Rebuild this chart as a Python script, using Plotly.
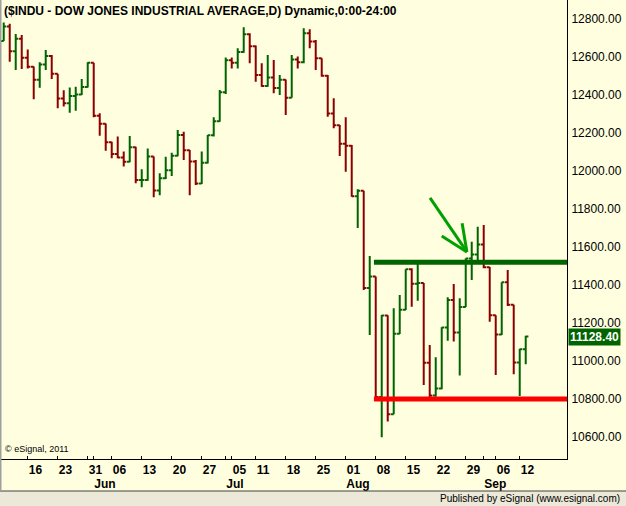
import plotly.graph_objects as go

# ---------------- data ----------------
dates = [
    "2011-05-10", "2011-05-11", "2011-05-12", "2011-05-13", "2011-05-16", "2011-05-17", "2011-05-18",
    "2011-05-19", "2011-05-20", "2011-05-23", "2011-05-24", "2011-05-25", "2011-05-26", "2011-05-27",
    "2011-05-31",
    "2011-06-01", "2011-06-02", "2011-06-03", "2011-06-06", "2011-06-07", "2011-06-08", "2011-06-09",
    "2011-06-10", "2011-06-13", "2011-06-14", "2011-06-15", "2011-06-16", "2011-06-17", "2011-06-20",
    "2011-06-21", "2011-06-22", "2011-06-23", "2011-06-24", "2011-06-27", "2011-06-28", "2011-06-29",
    "2011-06-30",
    "2011-07-01", "2011-07-05", "2011-07-06", "2011-07-07", "2011-07-08", "2011-07-11", "2011-07-12",
    "2011-07-13", "2011-07-14", "2011-07-15", "2011-07-18", "2011-07-19", "2011-07-20", "2011-07-21",
    "2011-07-22", "2011-07-25", "2011-07-26", "2011-07-27", "2011-07-28", "2011-07-29",
    "2011-08-01", "2011-08-02", "2011-08-03", "2011-08-04", "2011-08-05", "2011-08-08", "2011-08-09",
    "2011-08-10", "2011-08-11", "2011-08-12", "2011-08-15", "2011-08-16", "2011-08-17", "2011-08-18",
    "2011-08-19", "2011-08-22", "2011-08-23", "2011-08-24", "2011-08-25", "2011-08-26", "2011-08-29",
    "2011-08-30", "2011-08-31",
    "2011-09-01", "2011-09-02", "2011-09-06", "2011-09-07", "2011-09-08", "2011-09-09", "2011-09-12",
    "2011-09-13",
]

opens = [
    12684.68, 12760.36, 12630.03, 12695.92, 12595.75, 12548.37, 12479.58, 12560.18, 12605.32, 12512.04,
    12381.26, 12356.21, 12394.66, 12402.76, 12441.58, 12569.79, 12290.14, 12248.55, 12151.26, 12089.96,
    12070.81, 12048.94, 12124.36, 11951.91, 11952.97, 12076.11, 11897.27, 11961.52, 12004.36, 12080.38,
    12190.01, 12109.67, 12050.00, 11934.58, 12043.56, 12188.69, 12261.42, 12414.34, 12582.77, 12569.87,
    12626.02, 12719.49, 12657.20, 12505.76, 12446.88, 12491.61, 12437.12, 12479.73, 12385.16, 12587.42,
    12571.91, 12724.41, 12681.16, 12592.80, 12501.30, 12302.55, 12240.11, 12143.24, 12132.49, 11866.62,
    11896.44, 11383.68, 11444.61, 10809.85, 11239.77, 10719.94, 11143.31, 11269.02, 11482.90, 11405.93,
    11410.21, 10990.58, 10817.65, 10854.65, 11176.76, 11320.71, 11149.82, 11284.54, 11539.25, 11559.95,
    11613.53, 11493.57, 11240.26, 11139.30, 11414.86, 11295.81, 10992.13, 11061.12,
]

highs = [
    12781, 12775, 12721, 12716, 12640, 12550, 12572, 12637, 12611, 12512,
    12425, 12440, 12444, 12484, 12572, 12570, 12304, 12250, 12154, 12181,
    12102, 12184, 12128, 12009, 12119, 12076, 11988, 12075, 12096, 12216,
    12207, 12111, 12058, 12102, 12190, 12283, 12426, 12598, 12598, 12646,
    12756, 12725, 12660, 12567, 12611, 12584, 12505, 12482, 12611, 12602,
    12751, 12746, 12689, 12593, 12505, 12383, 12242, 12283, 12137, 11904,
    11896, 11553, 11445, 11242, 11240, 11277, 11347, 11483, 11488, 11514,
    11410, 11084, 11019, 11177, 11335, 11405, 11330, 11540, 11628, 11707,
    11716, 11494, 11240, 11415, 11479, 11296, 11064, 11133,
]

lows = [
    12684, 12575, 12532, 12537, 12540, 12377, 12438, 12532, 12484, 12330,
    12340, 12307, 12317, 12400, 12440, 12283, 12186, 12107, 12067, 12067,
    12023, 12046, 11935, 11914, 11949, 11862, 11872, 11958, 11974, 12078,
    12058, 11872, 11926, 11932, 12040, 12181, 12259, 12405, 12540, 12540,
    12623, 12567, 12470, 12444, 12444, 12409, 12400, 12295, 12385, 12540,
    12567, 12646, 12532, 12496, 12286, 12225, 12079, 11996, 11865, 11700,
    11374, 11137, 10804, 10598, 10681, 10719, 11142, 11268, 11286, 11317,
    10874, 10795, 10812, 10851, 11107, 11102, 10923, 11284, 11426, 11532,
    11488, 11207, 10926, 11137, 11289, 10930, 10816, 10983,
]

closes = [
    12760.36, 12630.03, 12695.92, 12595.75, 12548.37, 12479.58, 12560.18, 12605.32, 12512.04, 12381.26,
    12356.21, 12394.66, 12402.76, 12441.58, 12569.79, 12290.14, 12248.55, 12151.26, 12089.96, 12070.81,
    12048.94, 12124.36, 11951.91, 11952.97, 12076.11, 11897.27, 11961.52, 12004.36, 12080.38, 12190.01,
    12109.67, 12050.00, 11934.58, 12043.56, 12188.69, 12261.42, 12414.34, 12582.77, 12569.87, 12626.02,
    12719.49, 12657.20, 12505.76, 12446.88, 12491.61, 12437.12, 12479.73, 12385.16, 12587.42, 12571.91,
    12724.41, 12681.16, 12592.80, 12501.30, 12302.55, 12240.11, 12143.24, 12132.49, 11866.62, 11896.44,
    11383.68, 11444.61, 10809.85, 11239.77, 10719.94, 11143.31, 11269.02, 11482.90, 11405.93, 11410.21,
    10990.58, 10817.65, 10854.65, 11176.76, 11320.71, 11149.82, 11284.54, 11539.25, 11559.95, 11613.53,
    11493.57, 11240.26, 11139.30, 11414.86, 11295.81, 10992.13, 11061.12, 11128.40,
]

week_tick_dates = [
    "2011-05-16", "2011-05-23", "2011-05-31", "2011-06-06", "2011-06-13", "2011-06-20", "2011-06-27",
    "2011-07-05", "2011-07-11", "2011-07-18", "2011-07-25", "2011-08-01", "2011-08-08", "2011-08-15",
    "2011-08-22", "2011-08-29", "2011-09-06", "2011-09-12",
]
week_tick_labels = ["16", "23", "31", "06", "13", "20", "27", "05", "11", "18", "25",
                    "01", "08", "15", "22", "29", "06", "12"]
month_tick_dates = ["2011-06-01", "2011-07-01", "2011-08-01", "2011-09-01"]
month_tick_labels = ["Jun", "Jul", "Aug", "Sep"]
price_ticks = [10600, 10800, 11000, 11200, 11400, 11600, 11800, 12000, 12200, 12400, 12600, 12800]

resistance_level = 11520
support_level = 10800
levels_start_date = "2011-08-08"
last_price = 11128.40

# arrow drawn on the chart (bar-position units, price units)
arrow_shaft_x = [71.05, 77.2]
arrow_shaft_y = [11858, 11574]
arrow_wing1_x = [73.0, 77.2]
arrow_wing1_y = [11658, 11574]
arrow_wing2_x = [76.4, 77.2]
arrow_wing2_y = [11725, 11574]

title_text = "($INDU - DOW JONES INDUSTRIAL AVERAGE,D) Dynamic,0:00-24:00"

# ---------------- figure ----------------
pos = {d: i for i, d in enumerate(dates)}
xs = list(range(len(dates)))
X_RANGE = [-0.62, 93.88]
Y_RANGE = [10484, 12900]

GREEN = "#006400"
RED = "#8B0000"
BG = "#FFFFE0"
FONT = "Liberation Sans, Arial, sans-serif"

fig = go.Figure()
fig.add_trace(go.Ohlc(
    x=xs, open=opens, high=highs, low=lows, close=closes,
    increasing=dict(line=dict(color=GREEN, width=2)),
    decreasing=dict(line=dict(color=RED, width=2)),
    tickwidth=0.45, hoverinfo="skip", showlegend=False,
))

lx0 = pos[levels_start_date] - 0.3
for lvl, col in [(resistance_level, GREEN), (support_level, "#FF0000")]:
    fig.add_trace(go.Scatter(x=[lx0, X_RANGE[1]], y=[lvl, lvl], mode="lines",
                             line=dict(color=col, width=5), hoverinfo="skip", showlegend=False))

for ax_, ay_ in [(arrow_shaft_x, arrow_shaft_y), (arrow_wing1_x, arrow_wing1_y), (arrow_wing2_x, arrow_wing2_y)]:
    fig.add_trace(go.Scatter(x=ax_, y=ay_, mode="lines", line=dict(color="#00A000", width=3),
                             hoverinfo="skip", showlegend=False))

# invisible trace for month axis
fig.add_trace(go.Scatter(x=[pos[d] for d in month_tick_dates], y=[Y_RANGE[0]] * 4, xaxis="x2",
                         mode="markers", marker=dict(opacity=0), hoverinfo="skip", showlegend=False))

fig.update_layout(
    width=626, height=506,
    margin=dict(l=0, r=59, t=0, b=47),
    paper_bgcolor=BG, plot_bgcolor=BG,
    font=dict(family=FONT, color="black"),
    xaxis=dict(
        range=X_RANGE, showgrid=False, zeroline=False, showline=True, linecolor="black", linewidth=1,
        ticks="inside", ticklen=3, tickcolor="black",
        tickvals=[pos[d] for d in week_tick_dates], ticktext=week_tick_labels,
        ticklabelposition="outside right",
        tickfont=dict(family=FONT, size=12, color="black", weight="bold"),
        rangeslider=dict(visible=False), fixedrange=True,
    ),
    xaxis2=dict(
        range=X_RANGE, overlaying="x", anchor="y", side="bottom", showgrid=False, zeroline=False,
        showline=False, ticks="inside", ticklen=3, tickcolor="black",
        tickvals=[pos[d] for d in month_tick_dates], ticktext=month_tick_labels,
        ticklabelposition="outside right", ticklabelstandoff=16,
        tickfont=dict(family=FONT, size=12, color="black", weight="bold"),
    ),
    yaxis=dict(
        range=Y_RANGE, side="right", showgrid=False, zeroline=False, showline=True,
        linecolor="black", linewidth=1, ticks="", tickvals=price_ticks, tickformat=".2f",
        tickfont=dict(family=FONT, size=12, color="black"), ticklabelstandoff=1,
    ),
    shapes=[
        # bottom status strip
        dict(type="rect", xref="paper", yref="paper", x0=-0.01, x1=1.11,
             y0=-0.11, y1=(459 - 491) / 459, fillcolor="#ECE9D8", line=dict(width=0), layer="below"),
        dict(type="line", xref="paper", yref="paper", x0=-0.01, x1=1.11,
             y0=(459 - 491) / 459, y1=(459 - 491) / 459, line=dict(color="#404040", width=1)),
        # left window border
        dict(type="line", xref="paper", yref="paper", x0=0.0009, x1=0.0009,
             y0=(459 - 491) / 459, y1=1.0, line=dict(color="#A0A0A0", width=2)),
    ],
    annotations=[
        dict(text=title_text, xref="paper", yref="paper", x=0, y=1, xanchor="left", yanchor="top",
             xshift=2, yshift=-2, showarrow=False,
             font=dict(family=FONT, size=12, color="black", weight="bold")),
        dict(text="© eSignal, 2011", xref="paper", yref="paper", x=0, y=(459 - 449) / 459,
             xanchor="left", yanchor="middle", xshift=3, showarrow=False,
             font=dict(family=FONT, size=9, color="black")),
        dict(text="Published by eSignal (www.esignal.com)", xref="paper", yref="paper",
             x=622 / 567, y=(459 - 498.5) / 459, xanchor="right", yanchor="middle", showarrow=False,
             font=dict(family=FONT, size=10, color="black")),
        dict(text="<b>%.2f</b>" % last_price, xref="paper", yref="y", x=1, y=last_price,
             xanchor="left", yanchor="middle", xshift=1, showarrow=False,
             bgcolor=GREEN, borderpad=1,
             font=dict(family=FONT, size=12, color="white")),
    ],
)

fig.write_html("out.html")
